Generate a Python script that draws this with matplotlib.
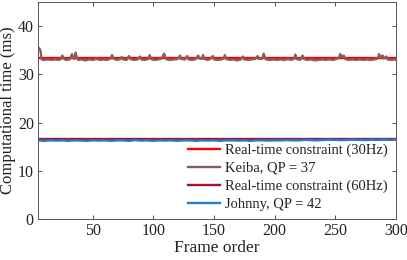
import matplotlib
matplotlib.use("Agg")
import matplotlib.pyplot as plt
import numpy as np

plt.rcParams['font.family'] = ['Liberation Serif', 'DejaVu Serif']

# Keiba, QP = 37 (frame, ms)
keiba_frames = [5, 6, 7, 8, 10, 13, 16, 19, 22, 24, 25, 26, 28, 31, 33, 34, 35, 36, 37, 38,
                41, 44, 47, 50, 53, 56, 59, 62, 65, 66, 67, 70, 73, 74, 75, 78, 80, 81, 84, 87,
                89, 90, 93, 96, 97, 98, 101, 104, 107, 108, 109, 110, 111, 114, 117, 120, 122, 123, 126, 128,
                129, 132, 135, 137, 138, 140, 141, 142, 145, 147, 149, 150, 153, 156, 158, 159, 160, 163, 166, 169,
                172, 174, 175, 178, 181, 184, 186, 187, 190, 191, 192, 193, 196, 199, 202, 205, 208, 211, 214, 216,
                217, 218, 221, 223, 224, 227, 230, 233, 236, 239, 242, 245, 248, 251, 253, 254, 256, 257, 258, 261,
                264, 267, 270, 273, 276, 279, 282, 285, 286, 287, 289, 290, 292, 293, 296, 299, 300]
keiba_ms = [35.6, 35.4, 35.0, 33.1, 33.0, 33.1, 33.0, 33.1, 33.0, 33.2, 33.9, 33.3, 33.0, 33.1, 34.2, 33.4, 33.2, 34.5, 33.5, 33.0,
            33.1, 32.9, 33.1, 33.0, 33.2, 33.0, 33.1, 33.0, 33.3, 34.0, 33.3, 33.0, 33.2, 33.6, 33.1, 33.0, 33.8, 33.2, 33.0, 33.1,
            33.7, 33.1, 33.0, 33.2, 34.0, 33.2, 33.0, 33.1, 33.3, 33.9, 34.3, 33.5, 33.1, 33.0, 33.1, 33.2, 33.9, 33.2, 33.1, 33.8,
            33.1, 33.0, 33.2, 33.9, 33.3, 33.2, 34.0, 33.2, 33.0, 33.2, 33.8, 33.1, 33.0, 33.1, 33.3, 34.0, 33.2, 33.0, 33.1, 32.9,
            33.1, 33.7, 33.1, 33.0, 33.1, 33.2, 33.8, 33.2, 33.3, 34.3, 33.4, 33.1, 33.0, 33.1, 33.0, 33.1, 33.0, 33.2, 33.0, 33.3,
            34.1, 33.2, 33.0, 33.9, 33.2, 33.0, 33.1, 32.9, 33.0, 33.1, 33.0, 33.1, 33.0, 33.2, 33.5, 34.2, 33.6, 33.9, 33.2, 33.0,
            33.1, 33.0, 33.1, 33.0, 33.1, 33.0, 33.1, 33.3, 34.2, 33.6, 33.9, 33.3, 33.7, 33.1, 33.0, 33.1, 33.0]

# Johnny, QP = 42
johnny_frames = [5, 10, 15, 20, 25, 30, 35, 40, 45, 50, 55, 60, 65, 70, 75, 80, 85, 90, 95, 100,
                 105, 110, 115, 120, 125, 130, 135, 140, 145, 150, 155, 160, 165, 170, 175, 180, 185, 190, 195, 200,
                 205, 210, 215, 220, 225, 230, 235, 240, 245, 250, 255, 260, 265, 270, 275, 280, 285, 290, 295, 300]
johnny_ms = [16.3, 16.2, 16.3, 16.25, 16.3, 16.2, 16.3, 16.25, 16.2, 16.3, 16.25, 16.3, 16.2, 16.3, 16.3, 16.2, 16.35, 16.25, 16.3, 16.2,
             16.3, 16.25, 16.3, 16.2, 16.3, 16.3, 16.2, 16.3, 16.25, 16.3, 16.2, 16.3, 16.3, 16.25, 16.3, 16.2, 16.3, 16.3, 16.25, 16.3,
             16.3, 16.35, 16.3, 16.3, 16.4, 16.35, 16.3, 16.4, 16.45, 16.4, 16.35, 16.4, 16.45, 16.4, 16.35, 16.45, 16.4, 16.45, 16.4, 16.45]

rt30 = 1000 / 30
rt60 = 1000 / 60
x_range = [5, 300]

fig = plt.figure(figsize=(4.07, 2.60), dpi=100)
ax = fig.add_axes([0.0934, 0.158, 0.8796, 0.834])

ax.plot(x_range, [rt30, rt30], color='#ff0000', lw=1.7, label='Real-time constraint (30Hz)')
ax.plot(keiba_frames, keiba_ms, color='#8c5c5c', lw=1.7, label='Keiba, QP = 37')
ax.plot(x_range, [rt60, rt60], color='#a2142f', lw=1.7, label='Real-time constraint (60Hz)')
ax.plot(johnny_frames, johnny_ms, color='#1f7fcc', lw=1.7, label='Johnny, QP = 42')

ax.set_xlim(5, 300)
ax.set_ylim(0, 45)
ax.set_xticks([50, 100, 150, 200, 250, 300])
ax.set_yticks([0, 10, 20, 30, 40])
ax.tick_params(direction='in', top=True, right=True, length=3, width=0.6,
               colors='#333333', labelsize=11.5, labelcolor='#222222', pad=3)
for s in ax.spines.values():
    s.set_color('#555555')
    s.set_linewidth(0.7)
ax.set_xlabel('Frame order', fontsize=12.5, color='#222222', labelpad=1)
ax.set_ylabel('Computational time (ms)', fontsize=12, color='#222222', labelpad=1)

leg = ax.legend(loc='lower right', bbox_to_anchor=(1.0, 0.0), frameon=False,
                fontsize=10.5, handlelength=2.2, handletextpad=0.35, labelspacing=0.32,
                borderaxespad=0.15)
for t in leg.get_texts():
    t.set_color('#222222')

fig.savefig('out.png', dpi=100)
